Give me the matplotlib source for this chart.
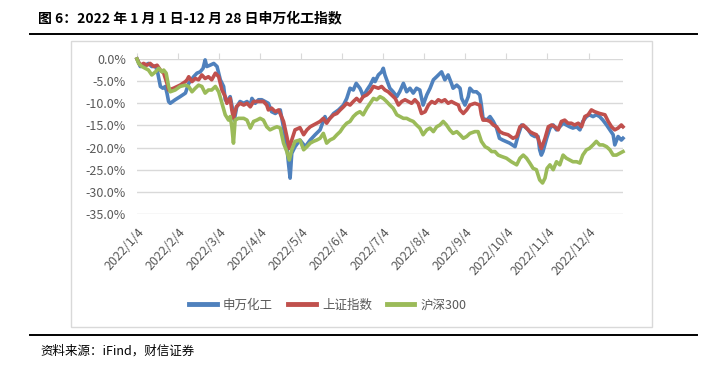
import numpy as np
import matplotlib.pyplot as plt
from matplotlib.ticker import FuncFormatter
from matplotlib.patches import Rectangle
from matplotlib.lines import Line2D

plt.rcParams['font.family'] = ['Noto Sans CJK SC', 'DejaVu Sans']

# time axis: months elapsed since 2022/1/4 (axis is evenly spaced by month)
tick_labels = ['2022/%d/4' % m for m in range(1, 13)]
series_names = ['申万化工', '上证指数', '沪深300']

# 申万化工 cumulative return (%)
sw_t = [0.00, 0.08, 0.20, 0.28, 0.36, 0.45, 0.50, 0.57, 0.63, 0.69, 0.73, 0.77, 0.81, 0.93,
        1.05, 1.18, 1.26, 1.38, 1.46, 1.54, 1.61, 1.66, 1.70, 1.78, 1.87, 1.95, 2.03, 2.11,
        2.15, 2.19, 2.27, 2.31, 2.37, 2.43, 2.51, 2.60, 2.68, 2.76, 2.80, 2.88, 2.96, 3.04,
        3.12, 3.20, 3.28, 3.37, 3.49, 3.58, 3.65, 3.69, 3.73, 3.77, 3.85, 3.97, 4.10, 4.22,
        4.34, 4.46, 4.58, 4.62, 4.70, 4.79, 4.91, 5.03, 5.11, 5.19, 5.27, 5.34, 5.43, 5.47,
        5.51, 5.60, 5.68, 5.76, 5.80, 5.88, 5.96, 6.00, 6.04, 6.10, 6.16, 6.24, 6.33, 6.40,
        6.49, 6.57, 6.65, 6.73, 6.81, 6.89, 6.97, 7.06, 7.14, 7.22, 7.30, 7.42, 7.50, 7.58,
        7.66, 7.70, 7.79, 7.87, 7.91, 7.99, 8.07, 8.11, 8.19, 8.27, 8.35, 8.39, 8.43, 8.52,
        8.60, 8.68, 8.76, 8.83, 8.91, 9.08, 9.21, 9.29, 9.37, 9.45, 9.53, 9.61, 9.69, 9.77,
        9.81, 9.85, 9.89, 9.98, 10.06, 10.14, 10.22, 10.30, 10.38, 10.46, 10.54, 10.62,
        10.71, 10.79, 10.86, 10.95, 11.02, 11.11, 11.19, 11.27, 11.35, 11.44, 11.52, 11.60,
        11.64, 11.72, 11.80, 11.84]
sw_v = [0.0, -1.7, -1.4, -1.0, -1.7, -1.6, -2.9, -6.2, -6.6, -6.2, -7.7, -9.6, -10.0, -9.2,
        -8.5, -7.7, -5.5, -4.0, -3.2, -2.9, -2.1, -0.2, -1.7, -1.4, -1.0, -1.7, -4.7, -6.2,
        -9.2, -9.6, -8.5, -10.4, -13.8, -10.8, -9.6, -10.0, -9.6, -10.4, -8.9, -10.0, -9.2, -9.2,
        -9.6, -10.0, -11.9, -12.3, -11.5, -16.0, -19.8, -23.5, -26.9, -21.3, -19.8, -18.3, -19.8, -18.3,
        -17.1, -16.0, -13.0, -14.1, -13.4, -12.3, -11.5, -10.4, -8.9, -6.6, -7.0, -5.5, -6.6, -7.4,
        -8.5, -7.0, -5.9, -4.4, -5.1, -3.6, -2.9, -2.1, -3.6, -5.1, -6.6, -7.4, -8.5, -7.4,
        -5.5, -7.4, -6.6, -7.7, -6.6, -7.0, -10.4, -8.1, -6.6, -4.7, -4.0, -2.9, -4.7, -3.6,
        -5.5, -6.6, -5.9, -6.6, -8.9, -10.4, -8.5, -6.6, -7.4, -7.4, -8.1, -10.4, -13.4, -13.8,
        -13.0, -14.1, -15.6, -17.9, -18.3, -19.0, -19.8, -17.1, -14.9, -15.3, -16.0, -17.1, -17.5, -17.5,
        -20.5, -21.7, -20.9, -17.9, -15.6, -14.9, -16.0, -15.3, -14.5, -14.9, -15.3, -15.6,
        -15.3, -16.0, -14.1, -13.0, -12.6, -13.0, -12.6, -13.0, -13.8, -14.9, -16.0, -17.1,
        -19.4, -17.5, -18.3, -17.9]

# 上证指数 cumulative return (%)
sh_t = [0.00, 0.08, 0.16, 0.24, 0.32, 0.41, 0.49, 0.57, 0.65, 0.73, 0.77, 0.89, 1.05, 1.18,
        1.22, 1.26, 1.34, 1.42, 1.50, 1.58, 1.66, 1.74, 1.82, 1.91, 1.99, 2.07, 2.15, 2.19,
        2.27, 2.31, 2.35, 2.42, 2.51, 2.60, 2.68, 2.76, 2.84, 2.96, 3.08, 3.16, 3.20, 3.28,
        3.37, 3.45, 3.57, 3.65, 3.71, 3.77, 3.85, 3.97, 4.06, 4.14, 4.22, 4.30, 4.38, 4.46,
        4.54, 4.62, 4.70, 4.79, 4.87, 4.95, 5.03, 5.11, 5.19, 5.27, 5.35, 5.43, 5.51, 5.60,
        5.68, 5.76, 5.88, 5.96, 6.04, 6.12, 6.20, 6.29, 6.37, 6.45, 6.53, 6.61, 6.69, 6.77,
        6.85, 6.93, 7.02, 7.10, 7.18, 7.26, 7.34, 7.42, 7.50, 7.58, 7.66, 7.74, 7.83, 7.87,
        7.95, 8.03, 8.11, 8.23, 8.35, 8.39, 8.43, 8.52, 8.60, 8.68, 8.76, 8.84, 8.92, 9.04,
        9.16, 9.25, 9.33, 9.41, 9.49, 9.57, 9.65, 9.73, 9.77, 9.85, 9.94, 10.02, 10.10, 10.18,
        10.26, 10.34, 10.42, 10.50, 10.58, 10.66, 10.75, 10.83, 10.91, 10.99, 11.07, 11.15,
        11.27, 11.40, 11.48, 11.56, 11.64, 11.72, 11.80, 11.84]
sh_v = [0.0, -1.4, -1.0, -1.4, -1.0, -1.7, -1.4, -2.5, -3.2, -5.5, -7.0, -6.6, -5.9, -5.1,
        -4.7, -4.0, -5.1, -4.4, -4.7, -3.6, -4.4, -4.0, -4.7, -3.2, -4.0, -7.0, -8.5, -10.0,
        -8.9, -11.5, -13.4, -10.8, -10.0, -10.4, -10.0, -10.8, -9.6, -9.6, -9.6, -10.4, -11.5, -11.1,
        -11.9, -11.5, -14.1, -17.5, -20.2, -18.3, -16.0, -15.5, -17.1, -16.0, -15.3, -14.9, -14.5, -14.1,
        -13.4, -14.5, -13.4, -12.6, -12.3, -11.5, -10.8, -10.0, -10.4, -9.6, -8.9, -9.6, -8.5, -8.1,
        -7.4, -6.2, -6.6, -6.2, -7.0, -7.4, -8.1, -8.9, -10.4, -9.6, -9.2, -9.6, -10.0, -9.2,
        -10.0, -12.3, -11.9, -10.4, -9.6, -10.0, -9.2, -9.6, -9.2, -10.0, -9.6, -10.0, -10.4, -11.5,
        -12.3, -11.5, -10.4, -10.0, -10.4, -12.6, -13.8, -13.8, -14.1, -14.9, -15.3, -16.4, -16.8, -17.1,
        -17.9, -17.5, -15.3, -14.9, -15.6, -16.4, -16.8, -17.1, -17.9, -20.2, -17.9, -15.3, -14.9, -15.3,
        -16.0, -14.1, -13.8, -14.5, -14.5, -14.9, -14.5, -15.3, -13.0, -12.6, -11.5, -11.9,
        -12.3, -12.6, -14.1, -15.3, -16.0, -15.6, -14.9, -15.3]

# 沪深300 cumulative return (%)
hs_t = [0.00, 0.04, 0.12, 0.20, 0.28, 0.36, 0.45, 0.53, 0.61, 0.65, 0.71, 0.77, 0.81, 0.93,
        1.05, 1.18, 1.26, 1.34, 1.42, 1.50, 1.58, 1.66, 1.74, 1.82, 1.91, 1.99, 2.07, 2.15,
        2.23, 2.27, 2.31, 2.35, 2.39, 2.47, 2.60, 2.68, 2.76, 2.84, 2.92, 3.00, 3.08, 3.16,
        3.24, 3.33, 3.41, 3.49, 3.57, 3.65, 3.71, 3.77, 3.85, 3.97, 4.06, 4.14, 4.22, 4.30,
        4.38, 4.46, 4.54, 4.62, 4.70, 4.79, 4.87, 4.95, 5.03, 5.11, 5.19, 5.27, 5.35, 5.43,
        5.51, 5.60, 5.68, 5.76, 5.84, 5.92, 6.00, 6.08, 6.16, 6.24, 6.33, 6.41, 6.49, 6.57,
        6.65, 6.73, 6.81, 6.89, 6.97, 7.06, 7.14, 7.22, 7.30, 7.38, 7.46, 7.54, 7.62, 7.70,
        7.79, 7.87, 7.95, 8.03, 8.11, 8.23, 8.31, 8.39, 8.48, 8.56, 8.64, 8.72, 8.80, 8.88,
        9.00, 9.12, 9.25, 9.33, 9.41, 9.49, 9.57, 9.65, 9.73, 9.81, 9.88, 9.94, 9.99, 10.06,
        10.14, 10.22, 10.30, 10.38, 10.46, 10.54, 10.62, 10.71, 10.79, 10.86, 10.95, 11.02,
        11.11, 11.19, 11.27, 11.35, 11.44, 11.52, 11.60, 11.68, 11.76, 11.84]
hs_v = [0.0, -1.0, -1.7, -2.1, -2.5, -3.6, -2.9, -2.1, -2.9, -2.5, -3.2, -6.2, -7.4, -7.0,
        -6.2, -5.9, -6.2, -7.4, -6.6, -5.9, -6.2, -7.7, -7.0, -7.0, -6.2, -7.4, -10.0, -12.6,
        -13.8, -13.0, -15.3, -19.0, -13.8, -13.4, -13.4, -13.8, -15.6, -14.1, -13.8, -13.4, -13.8, -15.3,
        -16.0, -15.6, -15.3, -15.6, -19.0, -20.9, -22.8, -20.5, -18.6, -18.3, -20.5, -19.8, -19.0, -18.6,
        -18.3, -17.9, -16.8, -19.0, -18.3, -17.9, -17.1, -16.4, -15.3, -14.5, -14.1, -13.0, -12.3, -11.9,
        -12.6, -11.1, -10.0, -8.9, -9.2, -8.5, -8.9, -9.6, -10.4, -11.1, -12.6, -13.0, -13.4, -13.4,
        -13.8, -14.1, -14.9, -15.6, -17.1, -16.0, -15.6, -16.4, -15.3, -14.9, -14.1, -14.9, -16.0, -16.8,
        -16.4, -17.1, -17.9, -17.5, -16.8, -16.4, -16.4, -18.6, -19.8, -20.2, -20.9, -20.9, -21.7, -22.0,
        -22.4, -23.2, -23.9, -22.4, -21.7, -22.4, -23.5, -24.7, -25.0, -27.3, -28.0, -26.9, -24.7, -23.9,
        -25.0, -23.2, -23.9, -21.7, -22.4, -22.8, -23.2, -23.2, -23.5, -21.7, -20.5, -20.2,
        -19.4, -18.6, -19.4, -19.4, -19.8, -20.5, -21.7, -21.7, -21.3, -20.9]

colors = ['#4F81BD', '#C0504D', '#9BBB59']
W, H = 713, 368

fig = plt.figure(figsize=(W / 100, H / 100), dpi=100)

# chart frame, header/footer rules
fig.patches.append(Rectangle((71 / W, 1 - 327 / H), 581 / W, 286 / H, transform=fig.transFigure,
                             fill=False, edgecolor='#d9d9d9', lw=1))
fig.add_artist(Line2D([30 / W, 697 / W], [1 - 34 / H] * 2, color='black', lw=1.4))
fig.add_artist(Line2D([30 / W, 697 / W], [1 - 335 / H] * 2, color='black', lw=1.4))
fig.text(38 / W, 1 - 18 / H, '图 6：2022 年 1 月 1 日-12 月 28 日申万化工指数',
         fontsize=10, fontweight='bold', va='center', ha='left')
fig.text(40 / W, 1 - 351 / H, '资料来源：iFind，财信证券', fontsize=9, style='italic',
         va='center', ha='left')

ax = fig.add_axes([137 / W, 154 / H, 486 / W, 155 / H])
for t, v, c, name in zip([sw_t, sh_t, hs_t], [sw_v, sh_v, hs_v], colors, series_names):
    ax.plot(t, v, color=c, lw=2.6, label=name, clip_on=False, solid_joinstyle='round')

ax.set_xlim(0, 11.84)
ax.set_ylim(-35, 0)
ax.set_yticks(np.arange(-35, 1, 5))
ax.yaxis.set_major_formatter(FuncFormatter(lambda v, p: '%.1f%%' % v))
ax.grid(axis='y', color='#d9d9d9', lw=1)
ax.set_axisbelow(True)
for s in ax.spines.values():
    s.set_visible(False)
ax.set_xticks(range(12))
ax.set_xticklabels(tick_labels, rotation=48, ha='right', va='top', rotation_mode='anchor')
ax.tick_params(axis='x', top=True, bottom=False, labeltop=False, labelbottom=True,
               direction='out', length=4, color='#d9d9d9', labelsize=9, labelcolor='#595959', pad=1)
ax.tick_params(axis='y', length=0, labelsize=9, labelcolor='#595959', pad=8)
# x tick labels sit below the plot while ticks stay on the 0% line
for lbl in ax.get_xticklabels():
    lbl.set_y(-0.03)

fig.legend(loc='center', bbox_to_anchor=(328 / W, 1 - 305 / H), ncol=3, frameon=False,
           fontsize=9, handlelength=2.2, handletextpad=0.5, columnspacing=1.2,
           labelcolor='#595959')
for ln in fig.legends[0].get_lines():
    ln.set_linewidth(3.5)

fig.savefig('out.png', dpi=100)
